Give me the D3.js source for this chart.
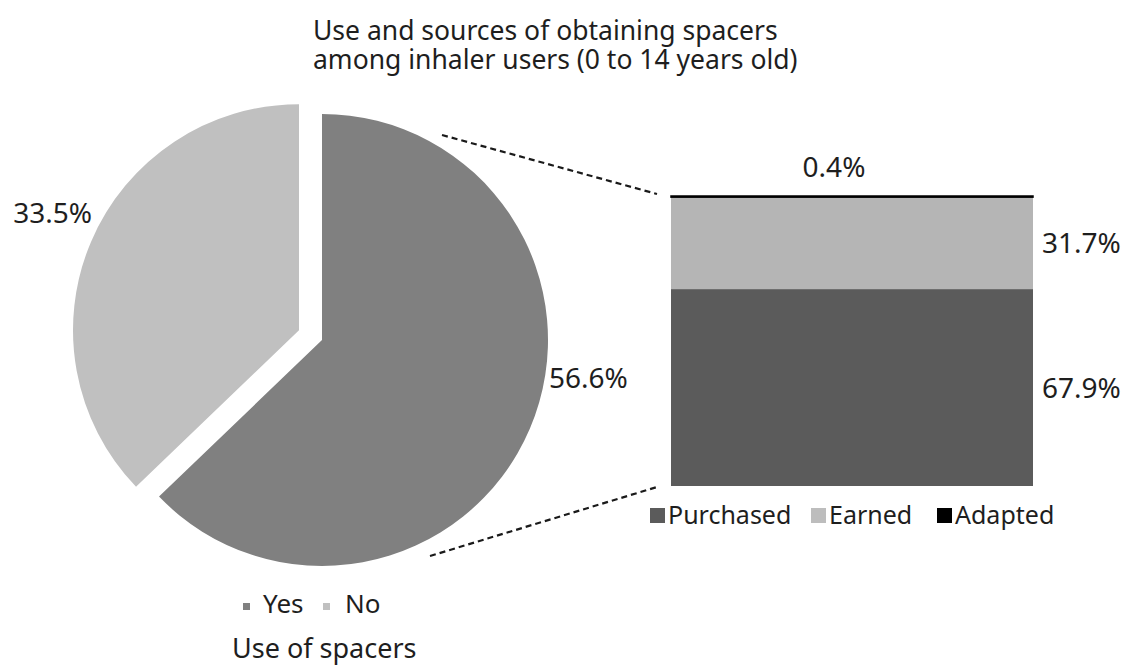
<!DOCTYPE html>
<html>
<head>
<meta charset="utf-8">
<script src="https://cdn.jsdelivr.net/npm/d3@7"></script>
<style>
  body { margin: 0; background: #fff; }
  svg text { font-family: "Noto Sans", "Open Sans", sans-serif; fill: #1e1e1e; }
</style>
</head>
<body>
<svg class="svgWrapper" width="1126" height="666"></svg>
<script>
// pie data: use of spacers
const useLabels = ['Yes', 'No'];
const useValues = [56.6, 33.5];
const useColors = ['#808080', '#c0c0c0'];

// stacked bar data: source of spacers
const sourceLabels = ['Purchased', 'Earned', 'Adapted'];
const sourceValues = [67.9, 31.7, 0.4];
const sourceColors = ['#5b5b5b', '#b5b5b5', '#000000'];

const titleLines = ['Use and sources of obtaining spacers', 'among inhaler users (0 to 14 years old)'];

const svgObj = d3.select('.svgWrapper');

// title, one text per line
svgObj.selectAll('text.title')
  .data(titleLines)
  .join('text')
  .attr('class', 'title')
  .attr('x', 313)
  .attr('y', (d, i) => 40 + i * 29)
  .style('font-size', '26.5px')
  .text(d => d);

// ---- pie ----
const cx = 322, cy = 340, R = 226, explode = 25;

const pie = d3.pie().sort(null).value(d => d.value);
const arc = d3.arc().innerRadius(0).outerRadius(R);
const pieData = pie(useLabels.map((l, i) => ({label: l, value: useValues[i], color: useColors[i]})));

const pieG = svgObj.append('g').attr('transform', `translate(${cx},${cy})`);

const offset = (d, i) => {
  if (i === 0) return [0, 0];
  const a = (d.startAngle + d.endAngle) / 2;
  return [explode * Math.sin(a), -explode * Math.cos(a)];
};

pieG.selectAll('path')
  .data(pieData)
  .join('path')
  .attr('d', arc)
  .attr('fill', d => d.data.color)
  .attr('transform', (d, i) => `translate(${offset(d, i)})`);

// pie value labels
pieG.append('text')
  .attr('x', R + 1).attr('y', 48)
  .style('font-size', '28px')
  .text(d3.format('.1f')(useValues[0]) + '%');

pieG.append('text')
  .attr('x', -230).attr('y', -117)
  .attr('text-anchor', 'end')
  .style('font-size', '28px')
  .text(d3.format('.1f')(useValues[1]) + '%');

// pie legend
const pieLegend = svgObj.append('g').attr('transform', 'translate(243,613)');
const pieItems = pieLegend.selectAll('g')
  .data(useLabels)
  .join('g')
  .attr('transform', (d, i) => `translate(${i * 80},0)`);
pieItems.append('rect')
  .attr('y', -10).attr('width', 7).attr('height', 7)
  .attr('fill', (d, i) => useColors[i]);
pieItems.append('text')
  .attr('x', (d, i) => i ? 22 : 20)
  .style('font-size', '26px')
  .text(d => d);

svgObj.append('text')
  .attr('x', 232).attr('y', 658)
  .style('font-size', '27px')
  .text('Use of spacers');

// ---- stacked bar ----
const barX = d3.scaleBand().domain(['sources']).range([671, 1033]).padding(0);
const barY = d3.scaleLinear().domain([0, 100]).range([486, 196]);

const stackData = d3.stack().keys(sourceLabels)([Object.fromEntries(sourceLabels.map((k, i) => [k, sourceValues[i]]))]);

const barG = svgObj.append('g');
barG.selectAll('rect')
  .data(stackData)
  .join('rect')
  .attr('x', barX('sources'))
  .attr('width', barX.bandwidth())
  .attr('y', d => barY(d[0][1]))
  .attr('height', d => barY(d[0][0]) - barY(d[0][1]))
  .attr('fill', (d, i) => sourceColors[i])
  .attr('stroke', (d, i) => i === 2 ? sourceColors[i] : 'none')
  .attr('stroke-width', 1.5);

// bar value labels
barG.selectAll('text.val')
  .data(stackData.slice(0, 2))
  .join('text')
  .attr('class', 'val')
  .attr('x', barX('sources') + barX.bandwidth() + 9)
  .attr('y', d => (barY(d[0][0]) + barY(d[0][1])) / 2 + 10)
  .style('font-size', '28px')
  .text((d, i) => d3.format('.1f')(sourceValues[i]) + '%');

barG.append('text')
  .attr('x', barX('sources') + barX.bandwidth() / 2 - 18)
  .attr('y', barY(100) - 19)
  .attr('text-anchor', 'middle')
  .style('font-size', '28px')
  .text(d3.format('.1f')(sourceValues[2]) + '%');

// connector lines from pie to bar
const connectors = [
  [[442, 135], [657, 194]],
  [[430, 556], [657, 487]]
];
svgObj.selectAll('line.conn')
  .data(connectors)
  .join('line')
  .attr('class', 'conn')
  .attr('x1', d => d[0][0]).attr('y1', d => d[0][1])
  .attr('x2', d => d[1][0]).attr('y2', d => d[1][1])
  .attr('stroke', '#1a1a1a')
  .attr('stroke-width', 2.2)
  .attr('stroke-dasharray', '6,4');

// bar legend
const barLegend = svgObj.append('g').attr('transform', 'translate(650,524)');
const legendX = [0, 161, 287];
const barItems = barLegend.selectAll('g')
  .data(sourceLabels)
  .join('g')
  .attr('transform', (d, i) => `translate(${legendX[i]},0)`);
barItems.append('rect')
  .attr('y', -16).attr('width', 15).attr('height', 15)
  .attr('fill', (d, i) => i === 1 ? '#bdbdbd' : sourceColors[i]);
barItems.append('text')
  .attr('x', 18)
  .style('font-size', '25px')
  .text(d => d);
</script>
</body>
</html>
